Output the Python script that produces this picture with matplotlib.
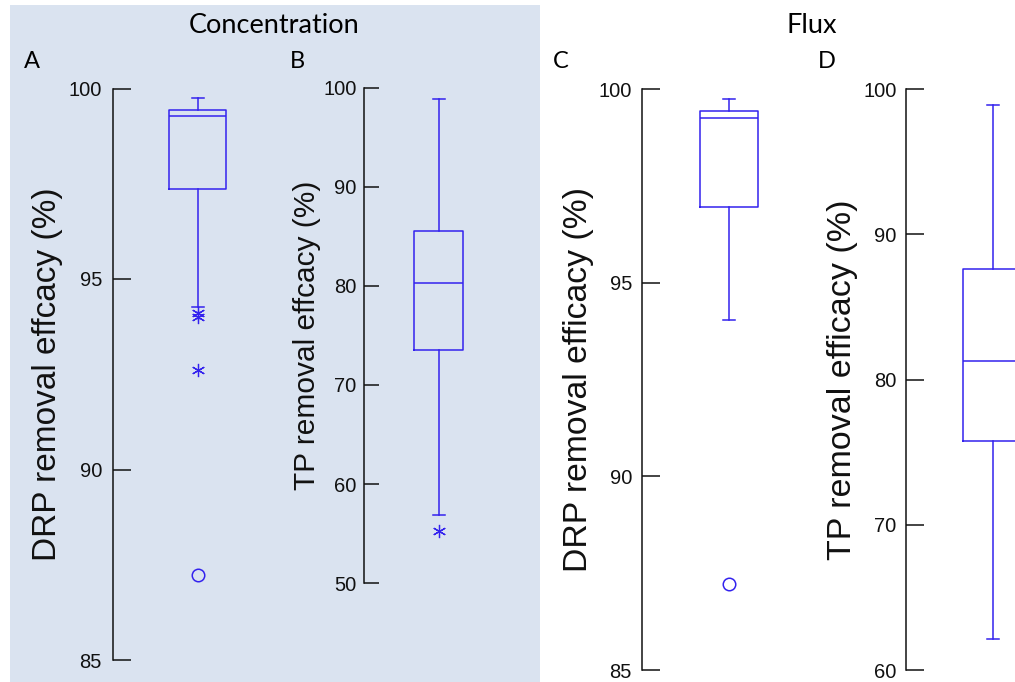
import matplotlib
matplotlib.use('Agg')
import matplotlib.pyplot as plt
from matplotlib.patches import Rectangle

plt.rcParams['font.family'] = ['Liberation Sans', 'DejaVu Sans']

W, H = 1015, 682
BLUE = '#3322ee'
SHADE = '#dae3f0'

# box summaries
drp_conc = dict(whishi=99.74, q3=99.43, med=99.27, q1=97.36, whislo=94.27)
drp_conc_extreme = [94.1, 94.0, 92.6]
drp_conc_outlier = [87.23]

tp_conc = dict(whishi=98.8, q3=85.5, med=80.3, q1=73.5, whislo=56.85)
tp_conc_extreme = [55.3]
tp_conc_outlier = []

drp_flux = dict(whishi=99.74, q3=99.43, med=99.25, q1=96.97, whislo=94.03)
drp_flux_extreme = []
drp_flux_outlier = [87.21]

tp_flux = dict(whishi=98.9, q3=87.6, med=81.3, q1=75.76, whislo=62.16)
tp_flux_extreme = []
tp_flux_outlier = []

drp_ticks = [85, 90, 95, 100]
tp_conc_ticks = [50, 60, 70, 80, 90, 100]
tp_flux_ticks = [60, 70, 80, 90, 100]

# layout per panel in pixels: spine x, top y, bottom y, box centre x, box width
panels = [
    dict(stats=drp_conc, ext=drp_conc_extreme, out=drp_conc_outlier, ticks=drp_ticks,
         label='DRP removal effcacy (%)', lsize=24, lpad=4,
         spine=113, top=88.5, bot=660, cen=197.7, bw=57, tlen=13, tpad=8),
    dict(stats=tp_conc, ext=tp_conc_extreme, out=tp_conc_outlier, ticks=tp_conc_ticks,
         label='TP removal effcacy (%)', lsize=21.5, lpad=2,
         spine=364.3, top=87.5, bot=583.3, cen=438.7, bw=49, tlen=11, tpad=5.5),
    dict(stats=drp_flux, ext=drp_flux_extreme, out=drp_flux_outlier, ticks=drp_ticks,
         label='DRP removal efficacy (%)', lsize=24.3, lpad=3.5,
         spine=641.7, top=89.3, bot=670, cen=728.7, bw=58, tlen=12.7, tpad=7),
    dict(stats=tp_flux, ext=tp_flux_extreme, out=tp_flux_outlier, ticks=tp_flux_ticks,
         label='TP removal efficacy (%)', lsize=24.5, lpad=4,
         spine=905.7, top=89.3, bot=670, cen=992.7, bw=59, tlen=12.7, tpad=6.5),
]

fig = plt.figure(figsize=(W / 100, H / 100), dpi=100)
fig.patches.append(Rectangle((10 / W, 0), 530 / W, 1 - 5 / H, transform=fig.transFigure,
                             facecolor=SHADE, edgecolor='none', zorder=-5))

for p in panels:
    half = p['cen'] - p['spine']
    ax = fig.add_axes([p['spine'] / W, 1 - p['bot'] / H, 2 * half / W, (p['bot'] - p['top']) / H])
    ax.set_zorder(2)
    ax.patch.set_alpha(0)
    st = dict(p['stats'])
    st['fliers'] = []
    lp = dict(color=BLUE, linewidth=1.1)
    ax.bxp([st], positions=[1], widths=[p['bw'] / half], capwidths=[12 / half],
           showfliers=False, boxprops=lp, whiskerprops=lp, capprops=lp, medianprops=lp)
    if p['ext']:
        ax.plot([1] * len(p['ext']), p['ext'], linestyle='none', marker=(6, 2, 0),
                markersize=9.5, markeredgecolor=BLUE, markeredgewidth=0.9)
    if p['out']:
        ax.plot([1] * len(p['out']), p['out'], linestyle='none', marker='o',
                markersize=9, markerfacecolor='none', markeredgecolor=BLUE, markeredgewidth=1.1)
    ax.set_xlim(0, 2)
    ax.set_ylim(p['ticks'][0], p['ticks'][-1])
    ax.set_yticks(p['ticks'])
    ax.set_xticks([])
    for s in ['top', 'right', 'bottom']:
        ax.spines[s].set_visible(False)
    ax.spines['left'].set_linewidth(1.1)
    ax.spines['left'].set_color('#111111')
    ax.tick_params(axis='y', direction='in', length=p['tlen'], width=1.1, color='#111111',
                   pad=p['tpad'], labelsize=14.5, labelcolor='#111111')
    ax.set_ylabel(p['label'], fontsize=p['lsize'], labelpad=p['lpad'], color='#111111')

tfont = ['Lato', 'DejaVu Sans']
fig.text(274 / W, 1 - 33 / H, 'Concentration', family=tfont, fontsize=19.5, ha='center', va='baseline')
fig.text(812 / W, 1 - 33 / H, 'Flux', family=tfont, fontsize=19.5, ha='center', va='baseline')
for x, s in [(24, 'A'), (290, 'B'), (553, 'C'), (818, 'D')]:
    fig.text(x / W, 1 - 68 / H, s, family=tfont, fontsize=17, ha='left', va='baseline')

fig.savefig('out.png', dpi=100)
